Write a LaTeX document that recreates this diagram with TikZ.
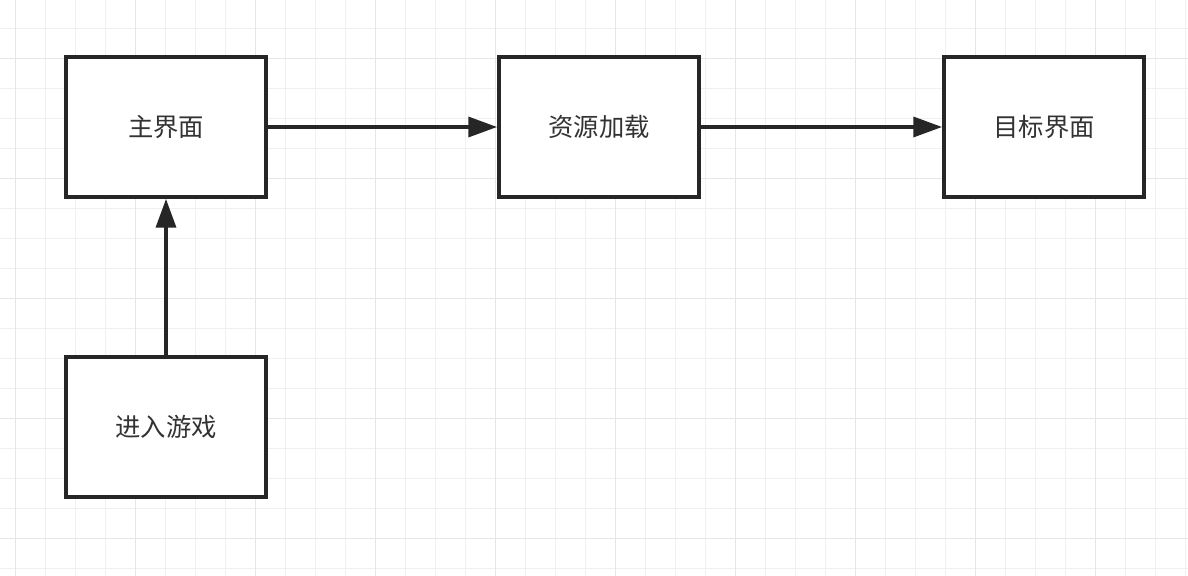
\documentclass[tikz,border=0pt]{standalone}
\usepackage{fontspec}
\newfontfamily\cjk{Noto Sans CJK SC}
\usetikzlibrary{arrows.meta}
\definecolor{gridminor}{HTML}{F0F0F0}
\definecolor{gridmajor}{HTML}{E6E6E6}
\definecolor{textgray}{HTML}{333333}
\tikzset{
  stagebox/.style={draw=black!85, line width=2.7pt, fill=white,
    minimum width=5cm, minimum height=3.5cm, inner sep=0pt,
    font=\cjk\fontsize{18}{21}\selectfont, text=textgray},
  flow/.style={line width=2.5pt, draw=black!85,
    -{Triangle[length=0.72cm,width=0.5cm]}},
}
\begin{document}
\begin{tikzpicture}[x=0.025cm,y=-0.025cm]
  \useasboundingbox[fill=white] (0,0) rectangle (1188,576);

%% grid
  \foreach \x in {15,45,...,1185} \draw[gridminor,line width=0.7pt] (\x,0) -- (\x,576);
  \foreach \y in {28,58,...,568} \draw[gridminor,line width=0.7pt] (0,\y) -- (1188,\y);
  \foreach \x in {15,135,...,1135} \draw[gridmajor,line width=0.7pt] (\x,0) -- (\x,576);
  \foreach \y in {58,178,...,538} \draw[gridmajor,line width=0.7pt] (0,\y) -- (1188,\y);

%% boxes
  \node[stagebox] (main)   at (166,127) {主界面};
  \node[stagebox] (load)   at (599,127) {资源加载};
  \node[stagebox] (target) at (1044,127) {目标界面};
  \node[stagebox] (enter)  at (166,427) {进入游戏};

%% arrows
  \draw[flow] (main) -- (load);
  \draw[flow] (load) -- (target);
  \draw[flow] (enter) -- (main);
\end{tikzpicture}
\end{document}
